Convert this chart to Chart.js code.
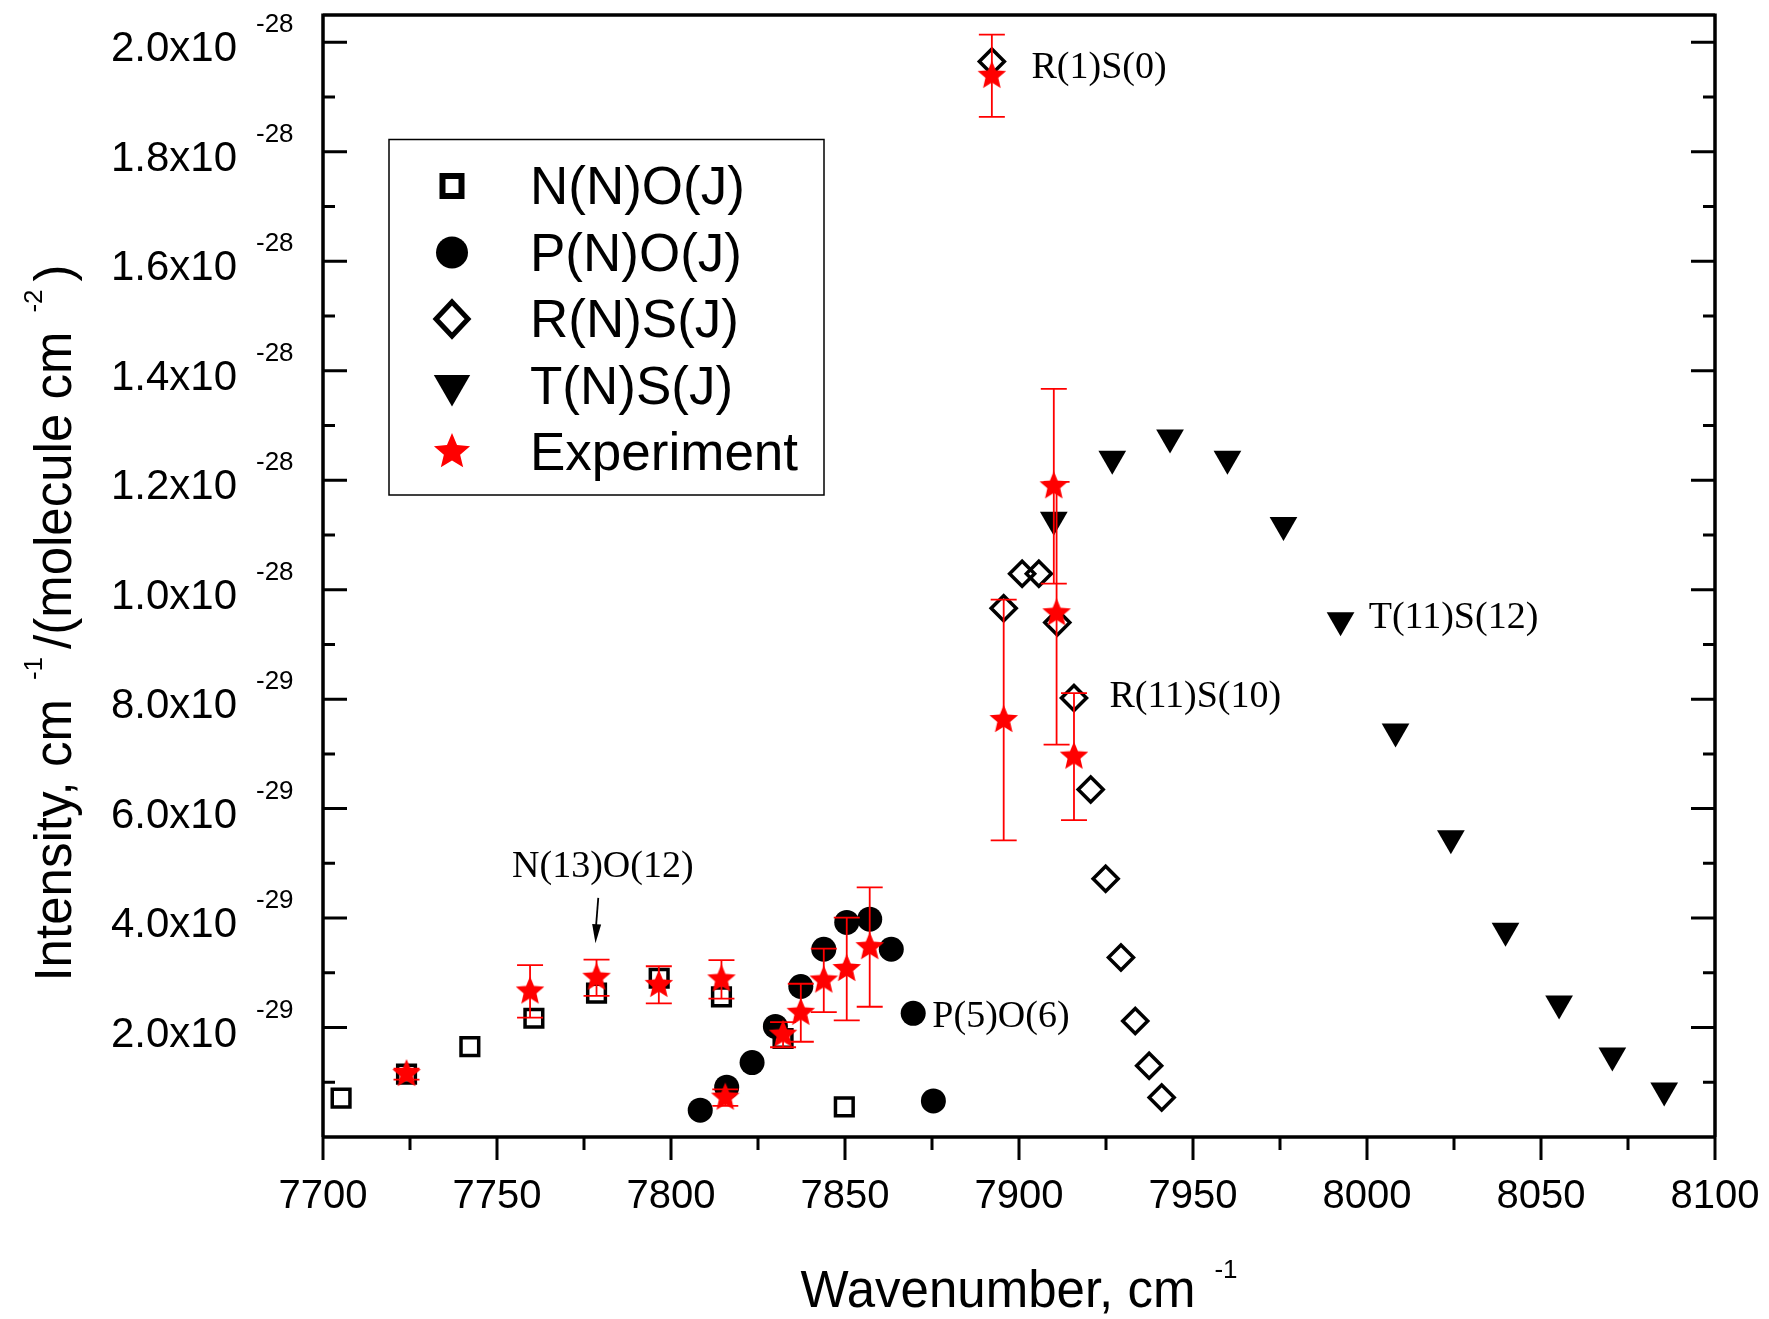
<!DOCTYPE html>
<html><head><meta charset="utf-8">
<script src="https://cdn.jsdelivr.net/npm/chart.js@4.4.1/dist/chart.umd.min.js"></script>
<style>html,body{margin:0;padding:0;background:#fff;}canvas{display:block;}</style>
</head><body>
<canvas id="c" width="1769" height="1319"></canvas>
<script>
// ---------------- DATA ----------------
const nnoX = [7705.2, 7724.0, 7742.2, 7760.6, 7778.6, 7796.6, 7814.5, 7832.2, 7849.8];
const nnoY = [0.71e-29, 1.15e-29, 1.65e-29, 2.17e-29, 2.63e-29, 2.90e-29, 2.56e-29, 1.80e-29, 0.55e-29];

const pnoX = [7808.4, 7816.0, 7823.3, 7830.0, 7837.3, 7843.9, 7850.5, 7857.1, 7863.3, 7869.6, 7875.4];
const pnoY = [0.49e-29, 0.91e-29, 1.36e-29, 2.02e-29, 2.75e-29, 3.43e-29, 3.92e-29, 3.98e-29, 3.43e-29, 2.26e-29, 0.66e-29];

const rnsX = [7892.2, 7895.6, 7900.9, 7905.7, 7911.0, 7915.8, 7920.6, 7924.9, 7929.3, 7933.4, 7937.4, 7941.0];
const rnsY = [19.65e-29, 9.66e-29, 10.29e-29, 10.29e-29, 9.40e-29, 8.02e-29, 6.35e-29, 4.72e-29, 3.28e-29, 2.12e-29, 1.30e-29, 0.72e-29];

const tnsX = [7910.0, 7926.8, 7943.4, 7959.9, 7976.0, 7992.4, 8008.2, 8024.1, 8039.8, 8055.2, 8070.5, 8085.4];
const tnsY = [11.28e-29, 12.39e-29, 12.78e-29, 12.39e-29, 11.18e-29, 9.44e-29, 7.41e-29, 5.46e-29, 3.77e-29, 2.44e-29, 1.49e-29, 0.85e-29];

const expX = [7724.0, 7759.5, 7778.6, 7796.5, 7814.5, 7815.6, 7832.2, 7837.3, 7843.9, 7850.5, 7857.1, 7892.2, 7895.6, 7910.0, 7910.8, 7915.8];
const expY = [1.15e-29, 2.66e-29, 2.91e-29, 2.78e-29, 2.88e-29, 0.72e-29, 1.87e-29, 2.27e-29, 2.86e-29, 3.07e-29, 3.47e-29, 19.39e-29, 7.62e-29, 11.89e-29, 9.57e-29, 6.95e-29];
const expErr = [0.10e-29, 0.48e-29, 0.33e-29, 0.34e-29, 0.35e-29, 0.15e-29, 0.23e-29, 0.53e-29, 0.58e-29, 0.94e-29, 1.09e-29, 0.75e-29, 2.20e-29, 1.78e-29, 2.40e-29, 1.16e-29];

const seriesNames = ['N(N)O(J)', 'P(N)O(J)', 'R(N)S(J)', 'T(N)S(J)', 'Experiment'];

const xMajorTicks = [7700, 7750, 7800, 7850, 7900, 7950, 8000, 8050, 8100];
const xTickLabels = ['7700', '7750', '7800', '7850', '7900', '7950', '8000', '8050', '8100'];
const xMinorTicks = [7725, 7775, 7825, 7875, 7925, 7975, 8025, 8075];

const yMajorTicks = [2e-29, 4e-29, 6e-29, 8e-29, 1.0e-28, 1.2e-28, 1.4e-28, 1.6e-28, 1.8e-28, 2.0e-28];
const yTickMantissa = ['2.0', '4.0', '6.0', '8.0', '1.0', '1.2', '1.4', '1.6', '1.8', '2.0'];
const yTickExponent = ['-29', '-29', '-29', '-29', '-28', '-28', '-28', '-28', '-28', '-28'];
const yMinorTicks = [1e-29, 3e-29, 5e-29, 7e-29, 9e-29, 1.1e-28, 1.3e-28, 1.5e-28, 1.7e-28, 1.9e-28];

// annotation labels (data coordinates)
const noteText = ['R(1)S(0)', 'N(13)O(12)', 'P(5)O(6)', 'T(11)S(12)', 'R(11)S(10)'];
const noteX = [7903.6, 7780.4, 7875.1, 8000.5, 7926.0];
const noteY = [19.35e-29, 4.75e-29, 2.01e-29, 9.30e-29, 7.86e-29];
const noteAlign = ['left', 'center', 'left', 'left', 'left'];
const arrowFrom = [7779.1, 4.37e-29];
const arrowTo = [7778.3, 3.54e-29];

// ---------------- HELPERS ----------------
const SANS = '"Liberation Sans", Arial, Helvetica, sans-serif';
const SERIF = '"Liberation Serif", "Times New Roman", serif';
const RED = '#ff0000';

function zip(xs, ys) { return xs.map((x, i) => ({ x: x, y: ys[i] })); }

function starPath(ctx, cx, cy, R) {
  const r = R * 0.45;
  ctx.beginPath();
  for (let i = 0; i < 10; i++) {
    const rad = (i % 2 === 0) ? R : r;
    const a = -Math.PI / 2 + i * Math.PI / 5;
    const px = cx + rad * Math.cos(a), py = cy + rad * Math.sin(a);
    if (i === 0) ctx.moveTo(px, py); else ctx.lineTo(px, py);
  }
  ctx.closePath();
}
function makeStar(R) {
  const c = document.createElement('canvas');
  const s = Math.ceil(2 * R + 4);
  c.width = s; c.height = s;
  const g = c.getContext('2d');
  starPath(g, s / 2, s / 2, R);
  g.fillStyle = RED; g.fill();
  return c;
}
const starImg = makeStar(15);

function drawMarker(ctx, kind, x, y) {
  ctx.save();
  ctx.strokeStyle = '#000'; ctx.fillStyle = '#000';
  if (kind === 0) {
    ctx.lineWidth = 6;
    ctx.strokeRect(x - 9.5, y - 10, 19, 20);
  } else if (kind === 1) {
    ctx.beginPath(); ctx.arc(x, y, 16, 0, Math.PI * 2); ctx.fill();
  } else if (kind === 2) {
    ctx.lineWidth = 5;
    ctx.beginPath(); ctx.moveTo(x, y - 17); ctx.lineTo(x + 16, y); ctx.lineTo(x, y + 17); ctx.lineTo(x - 16, y); ctx.closePath(); ctx.stroke();
  } else if (kind === 3) {
    const r = 21;
    ctx.beginPath();
    ctx.moveTo(x, y + r);
    ctx.lineTo(x - r * Math.sin(Math.PI / 3), y - r / 2);
    ctx.lineTo(x + r * Math.sin(Math.PI / 3), y - r / 2);
    ctx.closePath(); ctx.fill();
  } else {
    starPath(ctx, x, y, 19); ctx.fillStyle = RED; ctx.fill();
  }
  ctx.restore();
}

function drawRichText(ctx, parts, startX, baseY, mainFont, supFont, supRaise) {
  let x = startX;
  parts.forEach(p => {
    if (p.gapBefore) x += p.gapBefore;
    ctx.font = p.sup ? supFont : mainFont;
    ctx.fillText(p.t, x, p.sup ? baseY - supRaise : baseY);
    x += ctx.measureText(p.t).width;
    if (p.gapAfter) x += p.gapAfter;
  });
}
function richWidth(ctx, parts, mainFont, supFont) {
  let w = 0;
  parts.forEach(p => {
    ctx.font = p.sup ? supFont : mainFont;
    w += ctx.measureText(p.t).width + (p.gapBefore || 0) + (p.gapAfter || 0);
  });
  return w;
}

// error bars (drawn right before the Experiment stars)
const errorBarPlugin = {
  id: 'errorBars',
  beforeDatasetDraw(chart, args) {
    if (args.index !== 4) return;
    const ctx = chart.ctx, xs = chart.scales.x, ys = chart.scales.y;
    ctx.save();
    ctx.strokeStyle = RED; ctx.lineWidth = 1.8;
    for (let i = 0; i < expX.length; i++) {
      const px = xs.getPixelForValue(expX[i]);
      const top = ys.getPixelForValue(expY[i] + expErr[i]);
      const bot = ys.getPixelForValue(expY[i] - expErr[i]);
      ctx.beginPath();
      ctx.moveTo(px, top); ctx.lineTo(px, bot);
      ctx.moveTo(px - 13, top); ctx.lineTo(px + 13, top);
      ctx.moveTo(px - 13, bot); ctx.lineTo(px + 13, bot);
      ctx.stroke();
    }
    ctx.restore();
  }
};

const framePlugin = {
  id: 'frame',
  afterDraw(chart) {
    const ctx = chart.ctx, a = chart.chartArea, xs = chart.scales.x, ys = chart.scales.y;
    ctx.save();
    ctx.strokeStyle = '#000'; ctx.fillStyle = '#000'; ctx.lineCap = 'butt';
    // frame
    ctx.lineWidth = 3.5;
    ctx.beginPath();
    ctx.moveTo(a.left, a.top); ctx.lineTo(a.right, a.top);
    ctx.moveTo(a.left, a.bottom); ctx.lineTo(a.right, a.bottom);
    ctx.moveTo(a.left, a.top - 1.5); ctx.lineTo(a.left, a.bottom);
    ctx.moveTo(a.right, a.top - 1.5); ctx.lineTo(a.right, a.bottom);
    ctx.stroke();
    // x ticks (outward)
    ctx.lineWidth = 3;
    ctx.beginPath();
    xMajorTicks.forEach(v => { const p = xs.getPixelForValue(v); ctx.moveTo(p, a.bottom); ctx.lineTo(p, a.bottom + 23); });
    xMinorTicks.forEach(v => { const p = xs.getPixelForValue(v); ctx.moveTo(p, a.bottom); ctx.lineTo(p, a.bottom + 13); });
    // y ticks (inward, both sides)
    yMajorTicks.forEach(v => { const p = ys.getPixelForValue(v);
      ctx.moveTo(a.left, p); ctx.lineTo(a.left + 24, p);
      ctx.moveTo(a.right, p); ctx.lineTo(a.right - 24, p); });
    yMinorTicks.forEach(v => { const p = ys.getPixelForValue(v);
      ctx.moveTo(a.left, p); ctx.lineTo(a.left + 12, p);
      ctx.moveTo(a.right, p); ctx.lineTo(a.right - 12, p); });
    ctx.stroke();

    // x tick labels
    ctx.font = '40px ' + SANS;
    ctx.textAlign = 'center'; ctx.textBaseline = 'alphabetic';
    xMajorTicks.forEach((v, i) => ctx.fillText(xTickLabels[i], xs.getPixelForValue(v), a.bottom + 71));

    // y tick labels with superscript exponent
    yMajorTicks.forEach((v, i) => {
      const p = ys.getPixelForValue(v);
      ctx.font = '42px ' + SANS; ctx.textAlign = 'right';
      ctx.fillText(yTickMantissa[i] + 'x10', a.left - 86, p + 19);
      ctx.font = '26px ' + SANS; ctx.textAlign = 'left';
      ctx.fillText(yTickExponent[i], a.left - 67, p - 10);
    });

    // x title
    ctx.textAlign = 'left';
    const mainF = '51px ' + SANS, supF = '26px ' + SANS;
    const xParts = [{ t: 'Wavenumber, cm' }, { t: '-1', sup: true, gapBefore: 19 }];
    const xw = richWidth(ctx, xParts, mainF, supF);
    drawRichText(ctx, xParts, (a.left + a.right) / 2 - xw / 2, 1307, mainF, supF, 29);

    // y title (rotated)
    const yParts = [{ t: 'Intensity, cm' }, { t: '-1', sup: true, gapBefore: 19, gapAfter: 8 },
                    { t: '/(molecule cm' }, { t: '-2', sup: true, gapBefore: 19, gapAfter: 8 }, { t: ')' }];
    const yw = richWidth(ctx, yParts, mainF, supF);
    ctx.save();
    ctx.translate(71, 623);
    ctx.rotate(-Math.PI / 2);
    drawRichText(ctx, yParts, -yw / 2, 0, mainF, supF, 29);
    ctx.restore();

    // annotations
    ctx.font = '38px ' + SERIF;
    noteText.forEach((t, i) => {
      ctx.textAlign = noteAlign[i];
      ctx.fillText(t, xs.getPixelForValue(noteX[i]), ys.getPixelForValue(noteY[i]));
    });
    // arrow
    const ax0 = xs.getPixelForValue(arrowFrom[0]), ay0 = ys.getPixelForValue(arrowFrom[1]);
    const ax1 = xs.getPixelForValue(arrowTo[0]), ay1 = ys.getPixelForValue(arrowTo[1]);
    ctx.lineWidth = 1.8;
    ctx.beginPath(); ctx.moveTo(ax0, ay0); ctx.lineTo(ax1, ay1 - 10); ctx.stroke();
    const ang = Math.atan2(ay1 - ay0, ax1 - ax0);
    ctx.beginPath();
    ctx.moveTo(ax1, ay1);
    ctx.lineTo(ax1 - 19 * Math.cos(ang) + 4.5 * Math.sin(ang), ay1 - 19 * Math.sin(ang) - 4.5 * Math.cos(ang));
    ctx.lineTo(ax1 - 19 * Math.cos(ang) - 4.5 * Math.sin(ang), ay1 - 19 * Math.sin(ang) + 4.5 * Math.cos(ang));
    ctx.closePath(); ctx.fill();

    // legend
    ctx.lineWidth = 1.5;
    ctx.strokeRect(389, 139.5, 435, 355.5);
    ctx.font = '53px ' + SANS; ctx.textAlign = 'left';
    seriesNames.forEach((n, i) => {
      const cy = 186 + i * 66.5;
      drawMarker(ctx, i, 452, cy);
      ctx.fillStyle = '#000';
      ctx.fillText(n, 530, cy + 18);
    });
    ctx.restore();
  }
};

new Chart(document.getElementById('c'), {
  type: 'scatter',
  data: {
    datasets: [
      { label: seriesNames[0], data: zip(nnoX, nnoY), pointStyle: 'rect', pointRadius: 12.5, pointHoverRadius: 12.5,
        borderColor: '#000', backgroundColor: 'rgba(0,0,0,0)', borderWidth: 3.5, pointBorderWidth: 3.5, order: 4 },
      { label: seriesNames[1], data: zip(pnoX, pnoY), pointStyle: 'circle', pointRadius: 12.5, pointHoverRadius: 12.5,
        borderColor: '#000', backgroundColor: '#000', borderWidth: 0, pointBorderWidth: 0, order: 3 },
      { label: seriesNames[2], data: zip(rnsX, rnsY), pointStyle: 'rectRot', pointRadius: 12.5, pointHoverRadius: 12.5,
        borderColor: '#000', backgroundColor: 'rgba(0,0,0,0)', borderWidth: 3.5, pointBorderWidth: 3.5, order: 2 },
      { label: seriesNames[3], data: zip(tnsX, tnsY), pointStyle: 'triangle', pointRotation: 180, pointRadius: 16, pointHoverRadius: 16,
        borderColor: '#000', backgroundColor: '#000', borderWidth: 0, pointBorderWidth: 0, order: 1 },
      { label: seriesNames[4], data: zip(expX, expY), pointStyle: starImg, pointRadius: 15, pointHoverRadius: 15,
        borderColor: RED, backgroundColor: RED, borderWidth: 0, order: 0 }
    ]
  },
  options: {
    responsive: false,
    animation: false,
    devicePixelRatio: 1,
    events: [],
    layout: { padding: { left: 0, top: 15, right: 54, bottom: 0 }, autoPadding: false },
    plugins: { legend: { display: false }, tooltip: { enabled: false } },
    scales: {
      x: { type: 'linear', min: 7700, max: 8100,
           ticks: { display: false }, grid: { display: false }, border: { display: false },
           afterFit(s) { s.height = 182; } },
      y: { type: 'linear', min: 0, max: 20.5e-29,
           ticks: { display: false }, grid: { display: false }, border: { display: false },
           afterFit(s) { s.width = 323; } }
    }
  },
  plugins: [errorBarPlugin, framePlugin]
});
</script>
</body></html>
